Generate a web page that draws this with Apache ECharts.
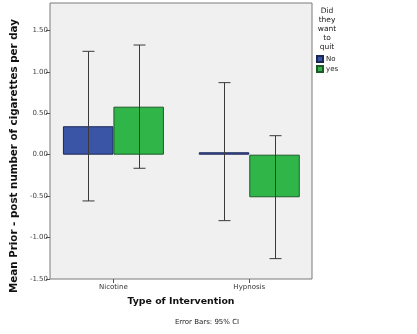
<!DOCTYPE html>
<html>
<head>
<meta charset="utf-8">
<script src="https://cdn.jsdelivr.net/npm/echarts@6/dist/echarts.min.js"></script>
<style>
  html, body { margin: 0; padding: 0; background: #ffffff; }
  #chart { width: 417px; height: 334px; }
</style>
</head>
<body>
<div id="chart"></div>
<script>
// Interventions on the x axis
const categories = ['Nicotine', 'Hypnosis'];
// Mean change (prior - post) per group
const meanNo = [0.343, 0.029];
const meanYes = [0.579, -0.514];
// 95% confidence interval bounds
const ciLowNo = [-0.558, -0.796];
const ciHighNo = [1.247, 0.869];
const ciLowYes = [-0.164, -1.254];
const ciHighYes = [1.323, 0.229];
// Value axis ticks
const yTicks = [-1.5, -1.0, -0.5, 0.0, 0.5, 1.0, 1.5];
const yMin = -1.5;
const yMax = 1.83;

const FONT = 'DejaVu Sans';
const BAR_W = 50.5;

function errorBars(lows, highs, offset) {
  return {
    type: 'custom',
    xAxisIndex: 1,
    yAxisIndex: 1,
    z: 5,
    silent: true,
    data: lows.map((lo, i) => [i, lo, highs[i]]),
    renderItem: function (params, api) {
      const lo = api.coord([api.value(0), api.value(1)]);
      const hi = api.coord([api.value(0), api.value(2)]);
      const x = Math.round(lo[0] + offset) + 0.5;
      const cap = 6;
      const style = { stroke: '#3a3a3a', lineWidth: 1 };
      return {
        type: 'group',
        children: [
          { type: 'line', shape: { x1: x, y1: lo[1], x2: x, y2: hi[1] }, style: style },
          { type: 'line', shape: { x1: x - cap, y1: lo[1], x2: x + cap, y2: lo[1] }, style: style },
          { type: 'line', shape: { x1: x - cap, y1: hi[1], x2: x + cap, y2: hi[1] }, style: style }
        ]
      };
    }
  };
}

const chart = echarts.init(document.getElementById('chart'), null, { renderer: 'canvas' });
chart.setOption({
  animation: false,
  backgroundColor: '#ffffff',
  grid: [
    // plot frame with the value-axis scale
    { left: 50, right: 105, top: 3, bottom: 55, show: true, backgroundColor: '#f0f0f0',
      borderColor: '#7a7a7a', borderWidth: 1, containLabel: false },
    // data area, category bands centred on the intervention ticks
    { left: 45.5, right: 99.8, top: 3, bottom: 55, containLabel: false }
  ],
  xAxis: [
    { gridIndex: 0, type: 'value', show: false, min: 0, max: 1 },
    { gridIndex: 1, type: 'category', data: categories,
      axisLine: { show: false, onZero: false },
      axisTick: { show: true, alignWithLabel: true, length: 4, lineStyle: { color: '#555' } },
      axisLabel: { fontFamily: FONT, fontSize: 7, color: '#333', margin: 5 },
      splitLine: { show: false } }
  ],
  yAxis: [
    { gridIndex: 0, type: 'value', min: yMin, max: yMax,
      axisLine: { show: false },
      axisTick: { show: true, length: 4, lineStyle: { color: '#555' }, customValues: yTicks },
      axisLabel: { fontFamily: FONT, fontSize: 7, color: '#444', margin: 2,
        customValues: yTicks, formatter: v => v.toFixed(2) },
      splitLine: { show: false } },
    { gridIndex: 1, type: 'value', min: yMin, max: yMax, show: false }
  ],
  legend: {
    orient: 'vertical',
    left: 316,
    top: 55,
    padding: 0,
    itemWidth: 6,
    itemHeight: 6,
    itemGap: 2,
    icon: 'rect',
    textStyle: { fontFamily: FONT, fontSize: 7, color: '#222', padding: [0, 0, 0, -2] },
    data: ['No', 'yes']
  },
  graphic: [
    { type: 'text', x: 327, y: 7,
      style: { text: 'Did\nthey\nwant\nto\nquit', fontFamily: FONT, fontSize: 7.5,
        lineHeight: 9, fill: '#222', align: 'center', verticalAlign: 'top' } },
    { type: 'text', x: 181, y: 302,
      style: { text: 'Type of Intervention', fontFamily: FONT, fontSize: 9.4, fontWeight: 'bold',
        fill: '#111', align: 'center', verticalAlign: 'middle' } },
    { type: 'text', x: 207, y: 322,
      style: { text: 'Error Bars: 95% CI', fontFamily: FONT, fontSize: 7,
        fill: '#222', align: 'center', verticalAlign: 'middle' } },
    { type: 'text', x: 14, y: 156, rotation: Math.PI / 2,
      style: { text: 'Mean Prior - post number of cigarettes per day', fontFamily: FONT,
        fontSize: 10.3, fontWeight: 'bold', fill: '#111', align: 'center', verticalAlign: 'middle' } }
  ],
  series: [
    { name: 'No', type: 'bar', xAxisIndex: 1, yAxisIndex: 1, data: meanNo,
      barWidth: BAR_W, barGap: '0%',
      itemStyle: { color: '#3b55a6', borderColor: '#1c2759', borderWidth: 1 } },
    { name: 'yes', type: 'bar', xAxisIndex: 1, yAxisIndex: 1, data: meanYes,
      barWidth: BAR_W, barGap: '0%',
      itemStyle: { color: '#2fb548', borderColor: '#1f5a2a', borderWidth: 1 } },
    errorBars(ciLowNo, ciHighNo, -BAR_W / 2),
    errorBars(ciLowYes, ciHighYes, BAR_W / 2)
  ]
});
</script>
</body>
</html>
